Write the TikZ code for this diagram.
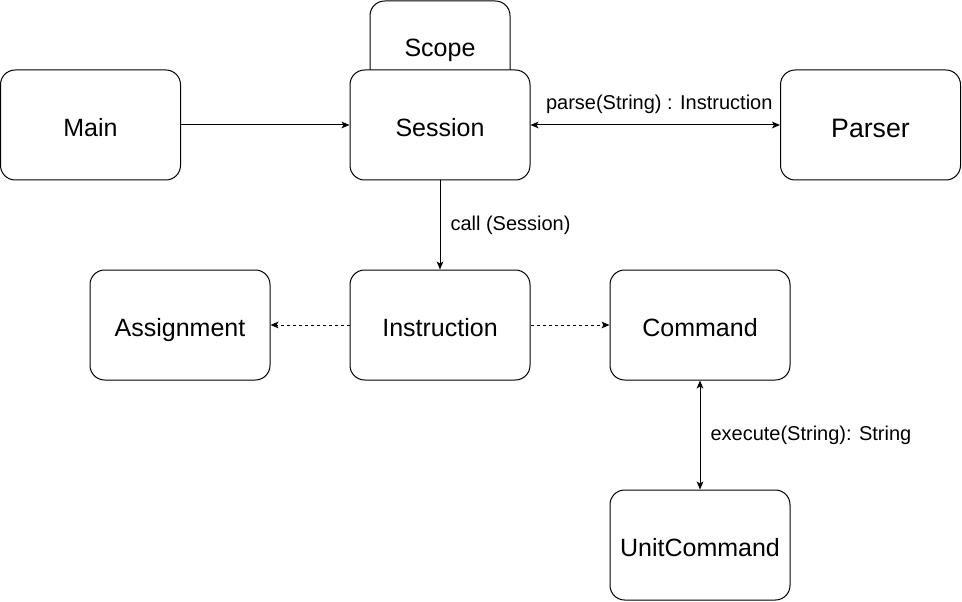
\documentclass[tikz,border=0pt]{standalone}
\usepackage{fontspec}
\setmainfont{Liberation Sans}
\usetikzlibrary{arrows.meta}
\begin{document}
\begin{tikzpicture}[x=0.75pt,y=-0.75pt,
  box/.style={draw=black,fill=white,rounded corners=11pt,line width=0.75pt,
    minimum width=135pt,minimum height=82.5pt,inner sep=0pt,
    text height=17.9pt,text depth=0pt,
    font=\fontsize{18.75}{22}\selectfont},
  conn/.style={line width=0.75pt,-{Stealth[length=6pt,width=5pt,inset=1.5pt]}},
  biconn/.style={line width=0.75pt,{Stealth[length=6pt,width=5pt,inset=1.5pt]}-{Stealth[length=6pt,width=5pt,inset=1.5pt]}},
  dconn/.style={conn,dash pattern=on 2.25pt off 2.25pt},
  lbl/.style={font=\fontsize{15}{18}\selectfont,inner sep=0pt}]
\useasboundingbox (0,0) rectangle (962,602);
\node[box,minimum width=105pt,minimum height=66pt] (scope) at (440,45) {Scope};
\node[box] (main) at (90.5,125) {Main};
\node[box] (session) at (440,125) {Session};
\node[box,font=\fontsize{20}{24}\selectfont,text height=18.8pt] (parser) at (870.5,125) {Parser};
\node[box] (assign) at (180,325) {Assignment};
\node[box] (instr) at (440,325) {Instruction};
\node[box] (command) at (700,325) {Command};
\node[box] (unit) at (700,545) {UnitCommand};
\draw[conn] (main) -- (session);
\draw[biconn] (session) -- node[lbl,above=8pt,xshift=3pt] {parse(String) : Instruction} (parser);
\draw[conn] (session) -- node[lbl,right=7.5pt] {call (Session)} (instr);
\draw[dconn] (instr) -- (assign);
\draw[dconn] (instr) -- (command);
\draw[biconn] (command) -- node[lbl,right=7.5pt] {execute(String): String} (unit);
\end{tikzpicture}
\end{document}
